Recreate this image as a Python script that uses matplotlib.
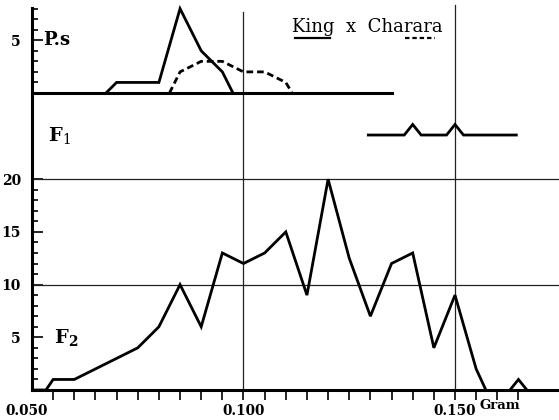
import numpy as np
import matplotlib.pyplot as plt

plt.rcParams['font.family'] = ['DejaVu Serif']
plt.rcParams['mathtext.fontset'] = 'dejavuserif'

# P.s (parents) - King (solid) and Charara (dashed), frequencies by weight class
king_x = [0.0675, 0.070, 0.075, 0.080, 0.085, 0.090, 0.095, 0.0975]
king_y = [0, 1, 1, 1, 8, 4, 2, 0]
charara_x = [0.0825, 0.085, 0.090, 0.095, 0.100, 0.105, 0.110, 0.1115]
charara_y = [0, 2, 3, 3, 2, 2, 1, 0]

# F1
f1_x = [0.1295, 0.138, 0.140, 0.142, 0.148, 0.150, 0.152, 0.1645]
f1_y = [0, 0, 1, 0, 0, 1, 0, 0]

# F2
f2_x = [0.050, 0.0533, 0.055, 0.060, 0.065, 0.070, 0.075, 0.080, 0.085, 0.090,
        0.095, 0.100, 0.105, 0.110, 0.115, 0.120, 0.125, 0.130, 0.135, 0.140,
        0.145, 0.150, 0.155, 0.1573]
f2_y = [0, 0, 1, 1, 2, 3, 4, 6, 10, 6,
        13, 12, 13, 15, 9, 20, 12.5, 7, 12, 13,
        4, 9, 2, 0]
f2_extra_x = [0.163, 0.165, 0.167]
f2_extra_y = [0, 1, 0]

# vertical offsets of the stacked panels (in F2 units)
ps_base = 28.18
f1_base = 24.19

fig = plt.figure(figsize=(5.59, 4.2), dpi=100)
ax = fig.add_axes([32/559, 30/420, 527/559, 390/420])
ax.set_xlim(0.05, 0.05 + 527/4230)
ax.set_ylim(0, 37)

lw = 2.0
# grid lines
for g in [10, 20]:
    ax.axhline(g, color='#222222', lw=0.9)
ax.plot([0.100, 0.100], [0, 35.9], color='#222222', lw=0.9)
ax.plot([0.150, 0.150], [0, 36.5], color='#222222', lw=0.9)

# F2
ax.plot(f2_x, f2_y, color='black', lw=lw, solid_joinstyle='miter')
ax.plot(f2_extra_x, f2_extra_y, color='black', lw=lw, solid_joinstyle='miter')

# F1
ax.plot(f1_x, np.array(f1_y) + f1_base, color='black', lw=lw, solid_joinstyle='miter')

# P.s
ax.plot([0.050, 0.135], [ps_base, ps_base], color='black', lw=2.2)
ax.plot(king_x, np.array(king_y) + ps_base, color='black', lw=lw, solid_joinstyle='miter')
ax.plot(charara_x, np.array(charara_y) + ps_base, color='black', lw=lw,
        dashes=(2.4, 1.4))

# legend text
ax.text(0.1115, 34.0, 'King  x  Charara', fontsize=13, va='baseline', ha='left')
ax.plot([0.1122, 0.1204], [33.4, 33.4], color='black', lw=1.6)
ax.plot([0.1382, 0.1453], [33.4, 33.4], color='black', lw=1.6, dashes=(2, 1.3))

# panel labels
ax.text(0.0526, ps_base + 5, 'P.s', fontsize=13, fontweight='bold', va='center')
ax.text(0.0538, f1_base, r'$\mathbf{F}_{\mathrm{1}}$', fontsize=14, va='center')
ax.text(0.0553, 5, r'$\mathbf{F}_{\mathbf{2}}$', fontsize=14, va='center')

# axes styling
for s in ['top', 'right']:
    ax.spines[s].set_visible(False)
ax.spines['left'].set_linewidth(2.2)
ax.spines['bottom'].set_linewidth(2.2)
ax.spines['left'].set_bounds(0, ps_base + 8.1)

y_major = [5, 10, 15, 20, ps_base + 5]
y_labels = ['5', '10', '15', '20', '5']
y_minor = [v for v in range(1, 21) if v % 5] + [ps_base + v for v in [1, 2, 3, 4, 6, 7, 8]]
ax.set_yticks(y_major, y_labels)
ax.set_yticks(y_minor, minor=True)
ax.tick_params(axis='y', which='major', direction='in', length=8, width=1.2, pad=8,
               labelsize=10)
ax.tick_params(axis='y', which='minor', direction='in', length=4.5, width=1.2)
for t in ax.get_yticklabels():
    t.set_fontweight('bold')

x_ticks = np.round(np.arange(0.055, 0.1651, 0.005), 3)
ax.set_xticks(x_ticks, [''] * len(x_ticks))
ax.tick_params(axis='x', which='major', direction='out', length=7, width=1.2)

for xv, lab in [(0.0488, '0.050'), (0.100, '0.100'), (0.150, '0.150')]:
    ax.text(xv, -2.0, lab, fontsize=9.8, fontweight='bold', ha='center', va='center',
            clip_on=False)
ax.text(0.1559, -1.5, 'Gram', fontsize=9.5, fontweight='bold', ha='left', va='center',
        clip_on=False)

fig.savefig('out.png', dpi=100)
